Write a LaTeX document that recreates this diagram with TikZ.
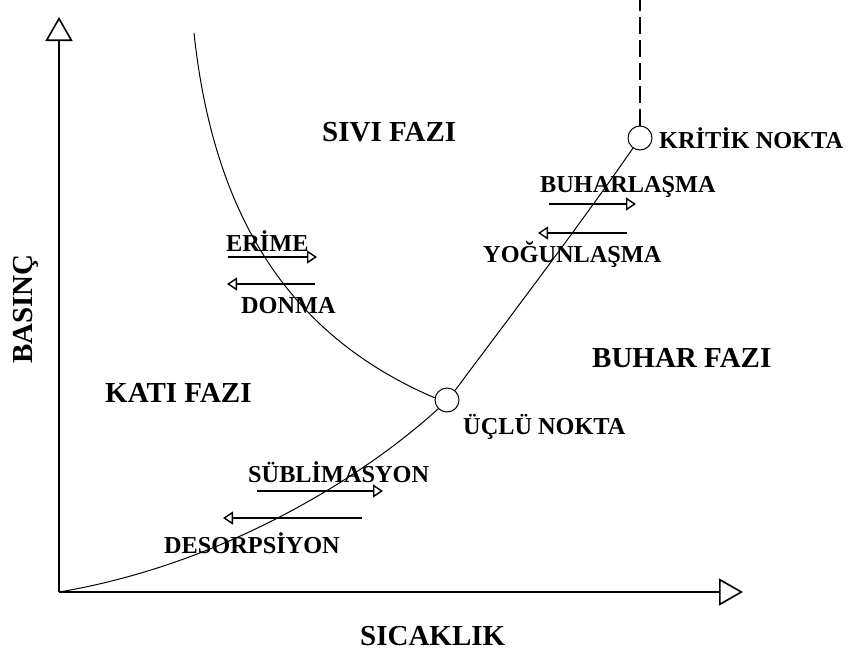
\documentclass[tikz,border=0pt]{standalone}
\usepackage{fontspec}
\setmainfont{Liberation Serif}
\usetikzlibrary{arrows.meta}
\begin{document}
\begin{tikzpicture}[x=1pt,y=-1pt,
  axis/.style={line width=2pt,-{Triangle[open,length=24pt,width=27pt,line width=1.6pt]}},
  curve/.style={line width=1pt},
  flow/.style={line width=1.6pt,-{Triangle[open,length=10pt,width=13pt,line width=1.4pt]}},
  big/.style={font=\fontsize{29}{31}\selectfont\bfseries,inner sep=0pt,anchor=base west},
  small/.style={font=\fontsize{24.3}{26}\selectfont\bfseries,inner sep=0pt,anchor=base west},
  pt/.style={circle,draw,line width=1pt,minimum size=24pt,inner sep=0pt}]
\useasboundingbox (0,0) rectangle (850,653);
% axes
\coordinate (O) at (59,592);
\coordinate (ytop) at (59,17);
\coordinate (xend) at (743,592);
\draw[axis] (O) -- (ytop);
\draw[axis] (O) -- (xend);
% points
\node[pt] (tp) at (447,400) {};
\node[pt] (cp) at (640,138) {};
\coordinate (dtop) at (640,0);
\coordinate (mtop) at (194,33);
% curves
\draw[curve] (O) .. controls (220,565) and (360,480) .. (tp.225);
\draw[curve] (mtop) .. controls (215,230) and (300,340) .. (tp.170);
\draw[curve] (tp.50) .. controls (500,330) and (580,225) .. (cp.235);
\draw[curve,line width=1.4pt,dash pattern=on 17pt off 6pt] (cp.north) -- (dtop);
% flow arrows
\coordinate (e1) at (228,257); \coordinate (e2) at (317,257);
\coordinate (d1) at (315,284); \coordinate (d2) at (227,284);
\coordinate (b1) at (549,204); \coordinate (b2) at (636,204);
\coordinate (y1) at (627,233); \coordinate (y2) at (538,233);
\coordinate (s1) at (257,491); \coordinate (s2) at (383,491);
\coordinate (r1) at (362,518); \coordinate (r2) at (223,518);
\draw[flow] (e1) -- (e2);
\draw[flow] (d1) -- (d2);
\draw[flow] (b1) -- (b2);
\draw[flow] (y1) -- (y2);
\draw[flow] (s1) -- (s2);
\draw[flow] (r1) -- (r2);
% labels
\node[big] (sivi) at (322,141) {SIVI FAZI};
\node[big] (buhar) at (592,367) {BUHAR FAZI};
\node[big] (kati) at (105,402) {KATI FAZI};
\node[small] (krit) at (659,148) {KRİTİK NOKTA};
\node[small] (uclu) at (463,434) {ÜÇLÜ NOKTA};
\node[small] (buh) at (540,192) {BUHARLAŞMA};
\node[small] (yog) at (483,262) {YOĞUNLAŞMA};
\node[small] (erime) at (226,251) {ERİME};
\node[small] (donma) at (241,313) {DONMA};
\node[small] (sub) at (248,482) {SÜBLİMASYON};
\node[small] (des) at (164,553) {DESORPSİYON};
\node[big] (sic) at (360,645) {SICAKLIK};
\node[big,rotate=90] (bas) at (32,364) {BASINÇ};
\end{tikzpicture}
\end{document}
